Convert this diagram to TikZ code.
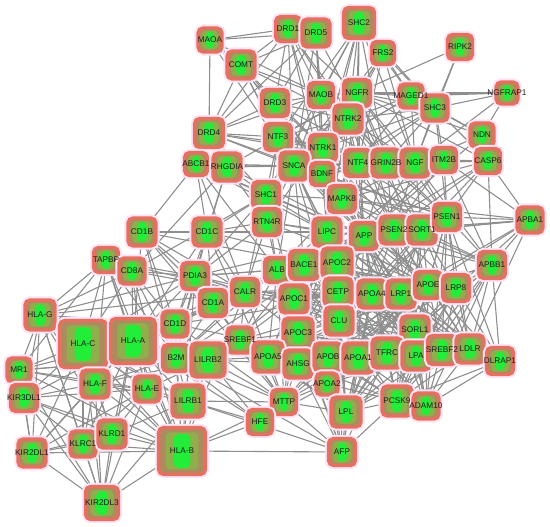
\documentclass[tikz,border=0pt]{standalone}
\usepackage{fontspec}
\setmainfont{Liberation Sans}
\usetikzlibrary{backgrounds, calc}
\definecolor{generim}{HTML}{E6705F}
\definecolor{genebody}{HTML}{AC8C5E}
\definecolor{geneolive}{HTML}{8FAE4C}
\definecolor{genegreen}{HTML}{22EE3A}
\definecolor{genehalo}{HTML}{FDE3F5}
\definecolor{linkgray}{HTML}{8E8E8E}
\definecolor{genetext}{HTML}{1E1E1E}

% name/x/y/size/label
\def\genelist{maoa/210/40/24/MAOA, drd1/288/29/25/DRD1, drd5/316/33/28/DRD5, shc2/359/23/31/SHC2,
  frs2/383/53/23/FRS2, ripk2/460/47/25/RIPK2, comt/241/65/28/COMT, maob/321/95/25/MAOB,
  ngfr/357/93/27/NGFR, maged1/411/96/24/MAGED1, shc3/435/108/26/SHC3, ngfrap1/507/93/22/NGFRAP1,
  drd3/275/103/27/DRD3, ntrk2/348/119/28/NTRK2, drd4/209/133/29/DRD4, ntf3/278/137/27/NTF3,
  ntrk1/323/148/27/NTRK1, ndn/482/135/24/NDN, abcb1/196/164/23/ABCB1, rhgdia/227/167/28/RHGDIA,
  snca/294/166/28/SNCA, bdnf/322/174/23/BDNF, ntf4/358/163/27/NTF4, grin2b/386/163/28/GRIN2B,
  ngf/415/163/28/NGF, itm2b/444/160/25/ITM2B, casp6/488/161/25/CASP6, mapk8/342/199/27/MAPK8,
  shc1/266/195/27/SHC1, rtn4r/267/222/27/RTN4R,
  lipc/327/232/28/LIPC, app/364/236/27/APP, psen2/394/230/28/PSEN2, sort1/422/230/28/SORT1,
  psen1/447/217/27/PSEN1, apba1/530/220/26/APBA1, alb/277/270/25/ALB, bace1/304/265/29/BACE1,
  apoc2/337/263/30/APOC2, apbb1/492/265/27/APBB1, apoc1/294/299/28/APOC1, cetp/338/292/28/CETP,
  apoa4/372/294/28/APOA4, lrp1/401/294/28/LRP1, apoe/428/285/27/APOE, lrp8/456/288/27/LRP8,
  clu/339/321/28/CLU, sorl1/415/330/28/SORL1, srebf1/240/340/26/SREBF1, apoc3/298/333/30/APOC3,
  apoa5/268/357/30/APOA5, ahsg/298/364/28/AHSG, apob/328/357/28/APOB, apoa1/358/358/30/APOA1,
  tfrc/387/353/30/TFRC, lpa/416/356/28/LPA, srebf2/442/350/29/SREBF2, ldlr/470/349/28/LDLR,
  dlrap1/500/361/27/DLRAP1, apoa2/327/384/22/APOA2, mttp/284/402/25/MTTP, lpl/346/412/30/LPL,
  pcsk9/397/401/30/PCSK9, adam10/426/406/26/ADAM10, afp/342/452/27/AFP,
  cd1b/142/232/28/CD1B, cd1c/207/232/28/CD1C, tapbp/106/260/25/TAPBP, cd8a/132/271/26/CD8A,
  pdia3/195/276/27/PDIA3, calr/245/292/27/CALR, cd1a/213/303/27/CD1A, hlag/40/315/30/HLA-G,
  hlac/83/344/47/HLA-C, hlaa/133/341/45/HLA-A, cd1d/175/324/26/CD1D, b2m/176/358/27/B2M,
  lilrb2/208/360/34/LILRB2, mr1/19/370/24/MR1, kir3dl1/24/398/27/KIR3DL1, hlaf/95/384/28/HLA-F,
  hlae/147/389/26/HLA-E, lilrb1/188/401/32/LILRB1, hfe/260/422/25/HFE, kir2dl1/32/453/28/KIR2DL1,
  klrc1/83/444/26/KLRC1, klrd1/112/434/28/KLRD1, hlab/182/451/47/HLA-B, kir2dl3/102/503/33/KIR2DL3}

\begin{document}
\begin{tikzpicture}[x=1bp, y=-1bp,
  gene/.style={rectangle, rounded corners=5pt, minimum size=#1, inner sep=0pt, fill=genebody, draw=generim, line width=3.4pt,
    preaction={draw=genehalo, line width=7.5pt},
    path picture={
      \fill[geneolive] let \p1=(path picture bounding box.south west), \p2=(path picture bounding box.north east) in
        ({.85*\x1+.15*\x2},{.9*\y1+.1*\y2}) rectangle ({.15*\x1+.85*\x2},{.1*\y1+.9*\y2});
      \fill[genegreen] let \p1=(path picture bounding box.south west), \p2=(path picture bounding box.north east) in
        ({.68*\x1+.32*\x2},{.86*\y1+.14*\y2}) rectangle ({.32*\x1+.68*\x2},{.14*\y1+.86*\y2});
    }},
  gene/.default=26,
  genelabel/.style={inner sep=0pt, font=\fontsize{8.3}{9}\selectfont, text=genetext},
  link/.style={draw=linkgray, line width=1.1pt}
]
  \useasboundingbox (0,0) rectangle (550,527);

  \foreach \n/\x/\y/\s/\t in \genelist
    \node[gene=\s] (\n) at (\x,\y) {};
  % labels after all boxes, so that none is hidden by a neighbour
  \foreach \n/\x/\y/\s/\t in \genelist
    \node[genelabel] (\n-text) at (\n) {\t};

  \begin{scope}[on background layer]
    \foreach \s/\ts in {
      maoa/{comt,drd1,drd5,drd4,maob,drd3,snca},
      comt/{drd1,drd5,maob,drd3,drd4,ntf3,snca,bdnf,ntrk1,ntrk2},
      drd1/{drd5,drd3,drd4,maob,ntrk2,ntrk1,snca,bdnf,grin2b,ngfr},
      drd5/{drd3,maob,drd4,ntrk1,bdnf,snca,grin2b},
      shc2/{ngfr,ntrk2,ntrk1,frs2,shc3,maob,ntf3,ngf,ntf4,shc1,maged1,bdnf,grin2b},
      frs2/{ngfr,ntrk2,ntrk1,shc3,ngf,ntf4,shc1,maged1},
      ripk2/{ngfr,shc3,ngf},
      ngfrap1/{ngfr,maged1,ndn,ngf,shc3},
      ndn/{maged1,ngfr,shc3,ngf,casp6,app},
      maged1/{ngfr,shc3,ntrk1,ntrk2,ngf,ntf4,snca},
      shc3/{ngfr,ntrk2,ntrk1,ngf,ntf4,bdnf,grin2b,casp6,itm2b,psen1},
      ngfr/{ntrk2,ntrk1,ngf,bdnf,ntf3,ntf4,rtn4r,rhgdia,app,psen1,casp6,snca,mapk8,maob,grin2b,shc1,sort1,psen2},
      maob/{drd3,drd4,snca,ntrk2,bdnf,app},
      drd3/{drd4,snca,bdnf,ntf3,ntrk2,ntrk1,grin2b,mapk8},
      ntrk2/{ntrk1,ntf3,ntf4,bdnf,ngf,snca,grin2b,mapk8,shc1,app,sort1,psen1,psen2,lipc},
      drd4/{ntf3,snca,bdnf,rhgdia,abcb1,ntrk1,grin2b,shc1},
      ntf3/{ntrk1,snca,bdnf,ngf,ntf4,shc1,rtn4r,mapk8,app,grin2b,lipc},
      ntrk1/{bdnf,ngf,ntf4,snca,shc1,mapk8,app,grin2b,psen1,lipc,psen2,sort1},
      snca/{bdnf,app,mapk8,shc1,rtn4r,lipc,psen1,psen2,apoe,alb,grin2b,ntf4,bace1,apoc2,clu,rhgdia,abcb1},
      bdnf/{ntf4,ngf,mapk8,app,grin2b,sort1,psen1,lipc,apoe},
      ntf4/{grin2b,ngf,mapk8,app,sort1,psen2},
      grin2b/{ngf,app,psen1,mapk8,psen2,apoe},
      ngf/{itm2b,app,psen1,sort1,casp6,mapk8,apbb1,psen2},
      itm2b/{app,bace1,psen1,casp6,psen2,apba1,apbb1},
      casp6/{app,psen1,psen2,apba1,apbb1,mapk8,sort1},
      mapk8/{app,psen1,apoe,lipc,shc1,bace1,apba1,apbb1,clu,lrp1,alb},
      abcb1/{rhgdia,alb,app,apoe,cd1c,cd1b,shc1,snca,calr},
      rhgdia/{rtn4r,shc1,cd1c,cd8a,pdia3,app},
      shc1/{rtn4r,cd1c,cd8a,pdia3,lipc,alb,app,apoc1,calr},
      rtn4r/{cd1c,calr,lipc,app,alb,apoe,pdia3}}
      \foreach \t in \ts \draw[link] (\s) -- (\t);

    \foreach \s/\ts in {
      app/{psen2,sort1,psen1,apba1,apbb1,bace1,apoe,lrp1,lrp8,clu,sorl1,apoc2,apoa4,cetp,lipc,alb,ldlr,adam10,tfrc,apoa1,apob,lpa,apoc1,apoc3,srebf2,pcsk9},
      psen2/{sort1,psen1,bace1,apoe,lrp1,apba1,apbb1,clu,sorl1,lrp8,apoa4,ldlr,srebf2},
      sort1/{psen1,apoe,lrp1,lrp8,sorl1,apbb1,apba1,ldlr,lpl,pcsk9,apoa4,clu,apoc2},
      psen1/{apba1,apbb1,lrp1,apoe,lrp8,sorl1,bace1,ldlr,adam10,dlrap1,clu,srebf2,apoa4},
      apba1/{apbb1,lrp1,lrp8,apoe,ldlr},
      apbb1/{lrp1,lrp8,apoe,ldlr,dlrap1,sorl1,srebf2,lpa,adam10,pcsk9,tfrc},
      lipc/{apoc2,bace1,alb,apoe,cetp,apoa4,apoc1,apoc3,clu,apob,apoa1,apoa2,lpl,lrp1,apoa5,ahsg,sorl1,ldlr,lpa,srebf1},
      bace1/{apoc2,alb,apoe,lrp1,sorl1,clu,adam10,apoa4,cetp,apoc1,apoc3},
      apoc2/{alb,apoe,cetp,apoa4,apoc1,apoc3,clu,apob,apoa1,apoa2,lpl,lrp1,apoa5,ahsg,ldlr,lpa,sorl1,tfrc},
      alb/{apoc1,calr,cetp,apoa4,apoc3,clu,apob,apoa1,apoa2,afp,ahsg,apoa5,lpl,mttp,srebf1,pdia3,cd1a,lpa,tfrc,apoe},
      calr/{pdia3,apoc1,apoc3,apoe,srebf1,apoa5,clu,lrp1},
      apoc1/{cetp,apoa4,apoc3,clu,apob,apoa1,apoa2,lpl,apoe,ahsg,apoa5,srebf1,lrp1,ldlr,mttp,lpa},
      cetp/{apoa4,apoc3,clu,apob,apoa1,apoa2,lpl,apoe,lrp1,ldlr,lpa,sorl1,tfrc,srebf2},
      apoa4/{lrp1,apoe,apoc3,clu,apob,apoa1,apoa2,lpl,ldlr,lpa,sorl1,tfrc,srebf2,mttp,pcsk9,afp,lrp8},
      lrp1/{apoe,lrp8,clu,sorl1,apob,apoa1,lpl,ldlr,lpa,tfrc,srebf2,pcsk9,adam10,dlrap1},
      apoe/{lrp8,clu,sorl1,apob,apoa1,lpl,ldlr,lpa,tfrc,srebf2,pcsk9,adam10,dlrap1,apoc3,apoa2,apoa5,srebf1,mttp,ahsg},
      lrp8/{sorl1,ldlr,dlrap1,lpa,srebf2,pcsk9,clu,apob},
      clu/{sorl1,apob,apoa1,apoa2,lpl,ldlr,lpa,tfrc,apoc3,apoa5,ahsg,srebf2,pcsk9,afp},
      sorl1/{ldlr,lpa,srebf2,pcsk9,apob,apoa1,tfrc,adam10,dlrap1,lpl},
      srebf1/{apoc3,apoa5,ahsg,apob,srebf2,ldlr,pcsk9,mttp,lpl,apoa1,apoa2},
      apoc3/{apoa5,ahsg,apob,apoa1,apoa2,lpl,mttp,ldlr,lpa,tfrc,afp,pcsk9},
      apoa5/{ahsg,apob,apoa1,apoa2,lpl,mttp,ldlr},
      ahsg/{apob,apoa1,apoa2,lpl,afp,mttp,tfrc},
      apob/{apoa1,apoa2,lpl,mttp,ldlr,lpa,pcsk9,afp,tfrc,srebf2,dlrap1},
      apoa1/{apoa2,lpl,mttp,ldlr,lpa,tfrc,pcsk9,afp,srebf2,adam10},
      tfrc/{lpa,srebf2,ldlr,pcsk9,lpl,afp,apoa2,hfe,adam10},
      lpa/{srebf2,ldlr,pcsk9,lpl,adam10,dlrap1,apoa2},
      srebf2/{ldlr,pcsk9,dlrap1,lpl,adam10},
      ldlr/{dlrap1,pcsk9,adam10,lpl},
      dlrap1/{pcsk9,adam10},
      apoa2/{lpl,mttp,afp,pcsk9},
      mttp/{lpl,afp},
      lpl/{afp,pcsk9},
      pcsk9/{afp,adam10}}
      \foreach \t in \ts \draw[link] (\s) -- (\t);

    \foreach \s/\ts in {
      hlab/{hfe,lilrb1,lilrb2,b2m,hlaa,hlac,hlae,hlaf,hlag,kir2dl1,kir2dl3,klrc1,klrd1,kir3dl1,mr1,cd8a,tapbp,calr,pdia3,cd1d,afp,mttp},
      hlaa/{hlac,hlag,hlae,hlaf,b2m,lilrb1,lilrb2,cd8a,tapbp,calr,pdia3,cd1d,kir2dl1,kir2dl3,kir3dl1,klrc1,klrd1,mr1,hfe,cd1a,cd1b,cd1c},
      hlac/{hlag,hlae,hlaf,b2m,lilrb1,lilrb2,cd8a,tapbp,calr,pdia3,kir2dl1,kir2dl3,kir3dl1,klrc1,klrd1,mr1,cd1d},
      hlag/{hlae,hlaf,b2m,lilrb1,lilrb2,cd8a,tapbp,pdia3,calr,kir2dl1,kir2dl3,kir3dl1,klrc1,klrd1,mr1,cd1d},
      hlae/{hlaf,b2m,lilrb1,lilrb2,klrc1,klrd1,kir2dl3,kir2dl1,tapbp,cd8a,mr1,kir3dl1},
      hlaf/{b2m,lilrb1,lilrb2,kir2dl1,kir2dl3,klrc1,klrd1,kir3dl1,mr1,tapbp},
      b2m/{lilrb1,lilrb2,cd1d,cd1a,cd1b,cd1c,hfe,mr1,cd8a,tapbp,calr,pdia3,mttp,afp,alb,app},
      lilrb1/{lilrb2,hfe,kir2dl3,klrd1,mttp,afp},
      lilrb2/{hfe,cd1d,app,mttp,apoa5,ahsg},
      kir2dl3/{kir2dl1,klrc1,klrd1,kir3dl1,mr1},
      kir2dl1/{klrc1,klrd1,kir3dl1,mr1},
      klrc1/{klrd1,kir3dl1},
      klrd1/{kir3dl1},
      mr1/{kir3dl1,tapbp,b2m},
      tapbp/{cd8a,pdia3,calr},
      cd8a/{pdia3,cd1d,calr},
      cd1b/{cd1a,cd1c,cd1d,calr,pdia3,apoe,mttp},
      cd1c/{cd1a,cd1d,pdia3,calr,apoe,mttp,lipc},
      cd1a/{cd1d,pdia3,calr,mttp,apoe,srebf1},
      cd1d/{mttp,apoe,pdia3,calr,apob},
      pdia3/{calr,alb,apoc1,app,mttp},
      hfe/{mttp}}
      \foreach \t in \ts \draw[link] (\s) -- (\t);
  \end{scope}
\end{tikzpicture}
\end{document}
